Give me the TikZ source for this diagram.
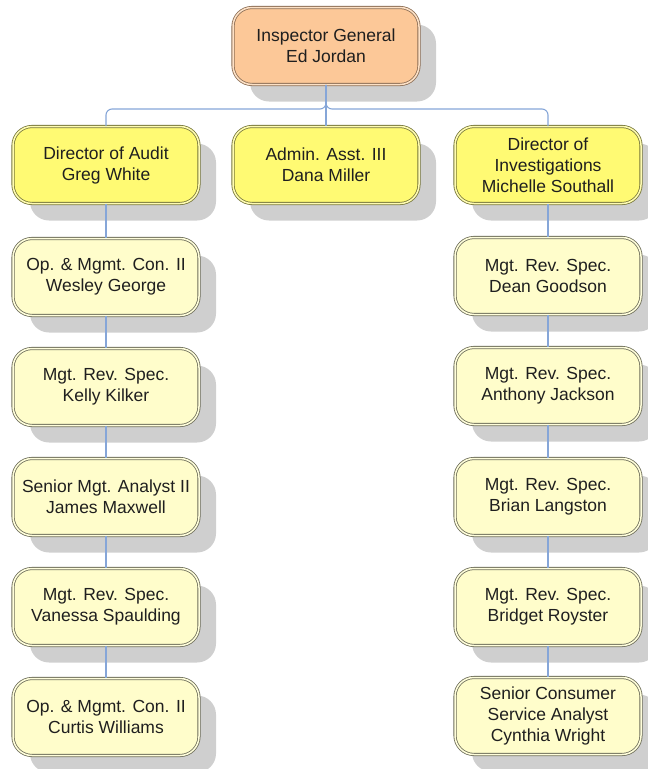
\documentclass[tikz,border=0pt]{standalone}
\usepackage{fontspec}
\setmainfont{Liberation Sans}
\usetikzlibrary{shadows}

\definecolor{peach}{HTML}{FCC898}
\definecolor{peachline}{HTML}{8C6E55}
\definecolor{lemon}{HTML}{FFFA73}
\definecolor{lemonline}{HTML}{77773A}
\definecolor{cream}{HTML}{FFFDCB}
\definecolor{creamline}{HTML}{6E6E5A}
\definecolor{linkblue}{HTML}{86A6D8}

\begin{document}
\begin{tikzpicture}[
		x=1pt, y=-1pt,
		box/.style={
			rectangle,
			rounded corners=19pt,
			minimum width=186pt,
			minimum height=77pt,
			inner sep=2pt,
			align=center,
			line width=0.8pt,
			double distance=1.5pt,
			text=black!88,
			font=\fontsize{17.5}{21}\selectfont,
			drop shadow={shadow xshift=17pt, shadow yshift=-17pt, fill=black!19, opacity=1}
		},
		chief/.style={box, fill=peach, draw=peachline, double=peach!55!white},
		head/.style={box, fill=lemon, draw=lemonline, double=lemon!55!white},
		staff/.style={box, fill=cream, draw=creamline, double=cream!70!white},
		link/.style={draw=linkblue, line width=1.1pt, rounded corners=6pt}
		]
		
		\useasboundingbox (0,0) rectangle (648,769);
		
		% Top
		\node[chief] (ig) at (326,46) {Inspector General\\Ed Jordan};
		
		% Directors
		\node[head] (aud) at (106,165) {Director of Audit\\Greg White};
		\node[head] (adm) at (326,165) {Admin. Asst. III\\Dana Miller};
		\node[head] (inv) at (548,165) {Director of\\Investigations\\Michelle Southall};
		
		% Audit staff
		\node[staff] (wg) at (106,277) {Op. \& Mgmt. Con. II\\Wesley George};
		\node[staff] (kk) at (106,387) {Mgt. Rev. Spec.\\Kelly Kilker};
		\node[staff] (jm) at (106,497) {Senior Mgt. Analyst II\\James Maxwell};
		\node[staff] (vs) at (106,607) {Mgt. Rev. Spec.\\Vanessa Spaulding};
		\node[staff] (cw) at (106,717) {Op. \& Mgmt. Con. II\\Curtis Williams};
		
		% Investigations staff
		\node[staff] (dg) at (548,276) {Mgt. Rev. Spec.\\Dean Goodson};
		\node[staff] (aj) at (548,386) {Mgt. Rev. Spec.\\Anthony Jackson};
		\node[staff] (bl) at (548,497) {Mgt. Rev. Spec.\\Brian Langston};
		\node[staff] (br) at (548,607) {Mgt. Rev. Spec.\\Bridget Royster};
		\node[staff] (cy) at (548,716) {Senior Consumer\\Service Analyst\\Cynthia Wright};
		
		% Bus
		\coordinate (bus) at (326,109);
		
		\draw[link] (ig.south) -- (adm.north);
		\draw[link] (ig.south) -- (bus) -| (aud.north);
		\draw[link] (ig.south) -- (bus) -| (inv.north);
		
		% Columns
		\draw[link] (aud) -- (wg) -- (kk) -- (jm) -- (vs) -- (cw);
		\draw[link] (inv) -- (dg) -- (aj) -- (bl) -- (br) -- (cy);
		
	\end{tikzpicture}
\end{document}
